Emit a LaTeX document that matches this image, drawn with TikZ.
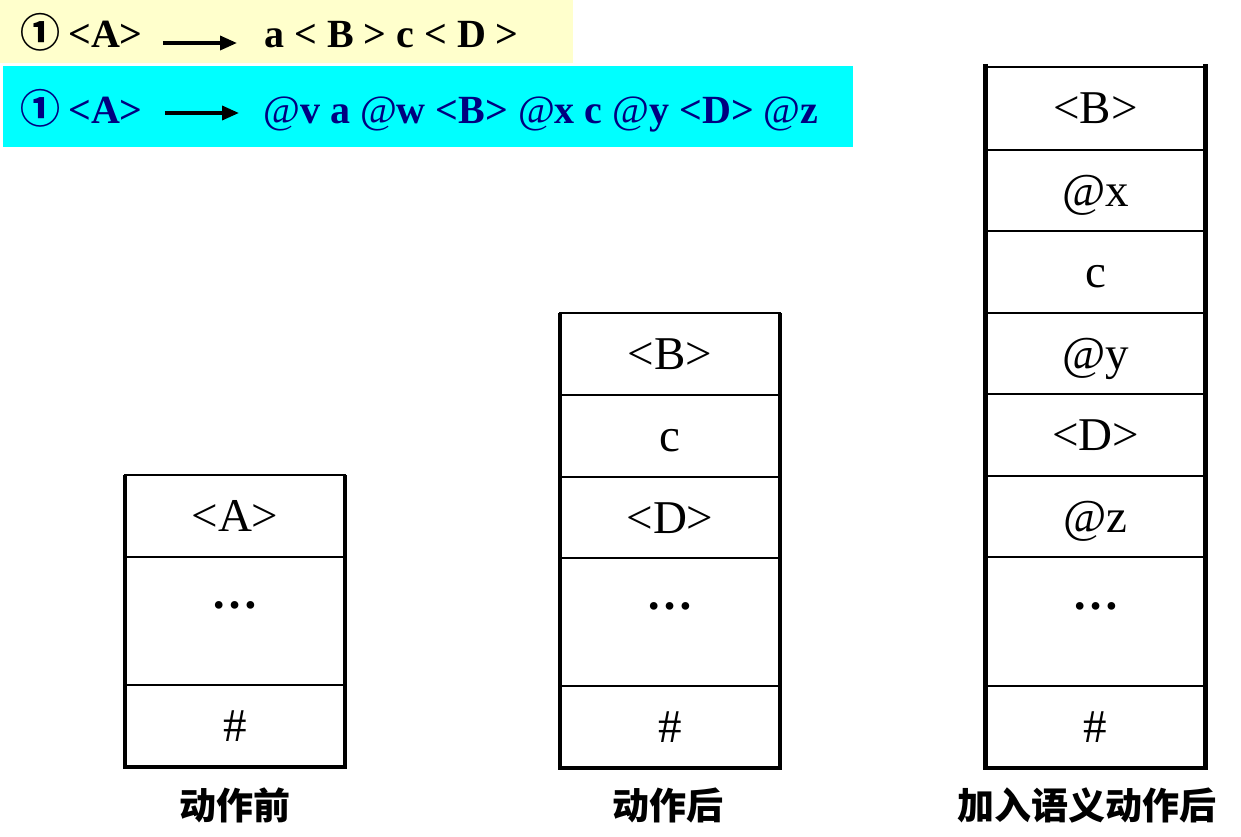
\documentclass[tikz,border=0pt]{standalone}
\usepackage{fontspec}
\setmainfont{Liberation Serif}
\newfontfamily\cjk{Noto Sans CJK SC}
\usetikzlibrary{arrows.meta}
\definecolor{banA}{HTML}{FFFFCC}
\definecolor{banB}{HTML}{00FFFF}
\definecolor{navytext}{HTML}{000080}
\newcommand\atm{\textmd{@}}
\newcommand\vdotsrow{\raisebox{28pt}{\textbf{…}}}
\begin{document}
\begin{tikzpicture}[x=1pt,y=-1pt,
  cell/.style={draw, line width=1.8pt, minimum width=220pt, inner sep=0pt, outer sep=0pt,
               text height=31pt, text depth=0pt, font=\fontsize{47}{50}\selectfont},
  side/.style={line width=4.5pt},
  ban/.style={inner sep=0pt, anchor=base west, font=\fontsize{40}{44}\selectfont\bfseries},
  arr/.style={line width=3.5pt, -{Triangle[length=17pt,width=14pt]}},
  capt/.style={font=\cjk\fontsize{37}{40}\selectfont\bfseries}]
\useasboundingbox (0,0) rectangle (1241,837);
\fill[banA] (0,0) rectangle (573,63);
\fill[banB] (3,66) rectangle (853,147);

% banner 1
\node[ban] (b1n) at (20,48) {\cjk ①};
\node[ban] (b1l) at (68,48) {<A>};
\node[ban] (b1r) at (264,48) {a < B > c < D >};
\draw[arr] ([xshift=20pt,yshift=5pt]b1l.base east) -- ([xshift=-27pt,yshift=5pt]b1r.base west);

% banner 2
\node[ban, navytext] (b2n) at (20,124) {\cjk ①};
\node[ban, navytext] (b2l) at (68,124) {<A>};
\node[ban, navytext] (b2r) at (263,124) {\atm v a \atm w <B> \atm x c \atm y <D> \atm z};
\draw[arr] ([xshift=22pt,yshift=11pt]b2l.base east) -- ([xshift=-24pt,yshift=11pt]b2r.base west);

% stack 1
\node[cell, minimum height=82pt] (s1a) at (235,516) {<A>};
\node[cell, minimum height=128pt] (s1b) at (235,621) {\vdotsrow};
\node[cell, minimum height=82pt] (s1c) at (235,726) {\#};
\draw[side] (s1a.north west) -- (s1c.south west) -- (s1c.south east) -- (s1a.north east);
\node[capt] (l1) at (235,805) {动作前};

% stack 2
\node[cell, minimum height=82pt] (s2a) at (670,354) {<B>};
\node[cell, minimum height=82pt] (s2b) at (670,436) {c};
\node[cell, minimum height=81pt] (s2c) at (670,517.5) {<D>};
\node[cell, minimum height=128pt] (s2d) at (670,622) {\vdotsrow};
\node[cell, minimum height=82pt] (s2e) at (670,727) {\#};
\draw[side] (s2a.north west) -- (s2e.south west) -- (s2e.south east) -- (s2a.north east);
\node[capt] (l2) at (668,805) {动作后};

% stack 3
\node[cell, minimum height=83pt] (s3a) at (1095.5,108.5) {<B>};
\node[cell, minimum height=81pt] (s3b) at (1095.5,190.5) {@x};
\node[cell, minimum height=82pt] (s3c) at (1095.5,272) {c};
\node[cell, minimum height=81pt] (s3d) at (1095.5,353.5) {@y};
\node[cell, minimum height=82pt] (s3e) at (1095.5,435) {<D>};
\node[cell, minimum height=81pt] (s3f) at (1095.5,516.5) {@z};
\node[cell, minimum height=129pt] (s3g) at (1095.5,621.5) {\vdotsrow};
\node[cell, minimum height=82pt] (s3h) at (1095.5,727) {\#};
\draw[side] ([yshift=3pt]s3a.north west) -- (s3h.south west) -- (s3h.south east) -- ([yshift=3pt]s3a.north east);
\node[capt] (l3) at (1087,805) {加入语义动作后};
\end{tikzpicture}
\end{document}
